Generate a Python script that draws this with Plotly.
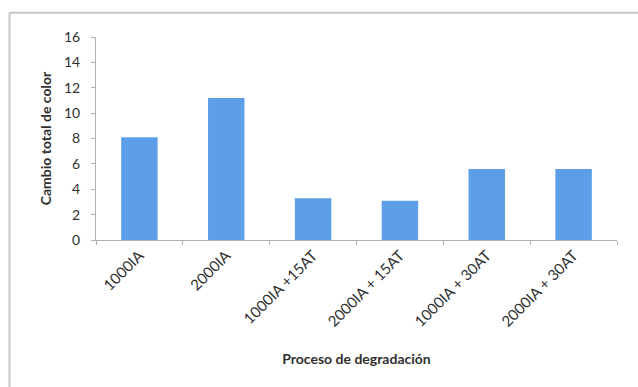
import plotly.graph_objects as go

# Total colour change per degradation process
procesos = ["1000IA", "2000IA", "1000IA +15AT", "2000IA + 15AT", "1000IA + 30AT", "2000IA + 30AT"]
cambio_color = [8.1, 11.2, 3.3, 3.1, 5.6, 5.6]
y_ticks = [0, 2, 4, 6, 8, 10, 12, 14, 16]

FONT = "Lato, 'Liberation Sans', sans-serif"
AXIS_GRAY = "#b0b0b0"
TEXT = "#303030"

fig = go.Figure(
    go.Bar(
        x=procesos,
        y=cambio_color,
        width=0.42,
        marker=dict(color="#5e9ee8", line=dict(width=0)),
        hoverinfo="x+y",
    )
)

fig.update_layout(
    width=638,
    height=387,
    margin=dict(l=96, r=21, t=37, b=147),
    paper_bgcolor="white",
    plot_bgcolor="white",
    showlegend=False,
    font=dict(family=FONT, size=13, color=TEXT),
    shapes=[
        # outer chart frame (top and left edges visible)
        dict(type="line", xref="paper", yref="paper", x0=-0.166, x1=1.2, y0=1.12, y1=1.12,
             line=dict(color="#c8c8c8", width=2)),
        dict(type="line", xref="paper", yref="paper", x0=-0.166, x1=-0.166, y0=1.12, y1=-1.0,
             line=dict(color="#c8c8c8", width=2)),
    ],
)

fig.update_xaxes(
    type="category",
    showline=True,
    linecolor=AXIS_GRAY,
    linewidth=1,
    ticks="outside",
    tickson="boundaries",
    ticklen=4,
    tickcolor=AXIS_GRAY,
    tickangle=-45,
    tickfont=dict(size=15, color=TEXT),
    showgrid=False,
    title=dict(text="<b>Proceso de degradación</b>", font=dict(size=14, color=TEXT), standoff=25),
)

fig.update_yaxes(
    range=[0, 16],
    tickvals=y_ticks,
    showline=True,
    linecolor=AXIS_GRAY,
    linewidth=1,
    ticks="outside",
    ticklen=4,
    tickcolor=AXIS_GRAY,
    ticklabelstandoff=8,
    tickfont=dict(size=14, color=TEXT),
    showgrid=False,
    zeroline=False,
    title=dict(text="<b>Cambio total de color</b>", font=dict(size=14, color=TEXT), standoff=9),
)

fig.write_html("out.html")
